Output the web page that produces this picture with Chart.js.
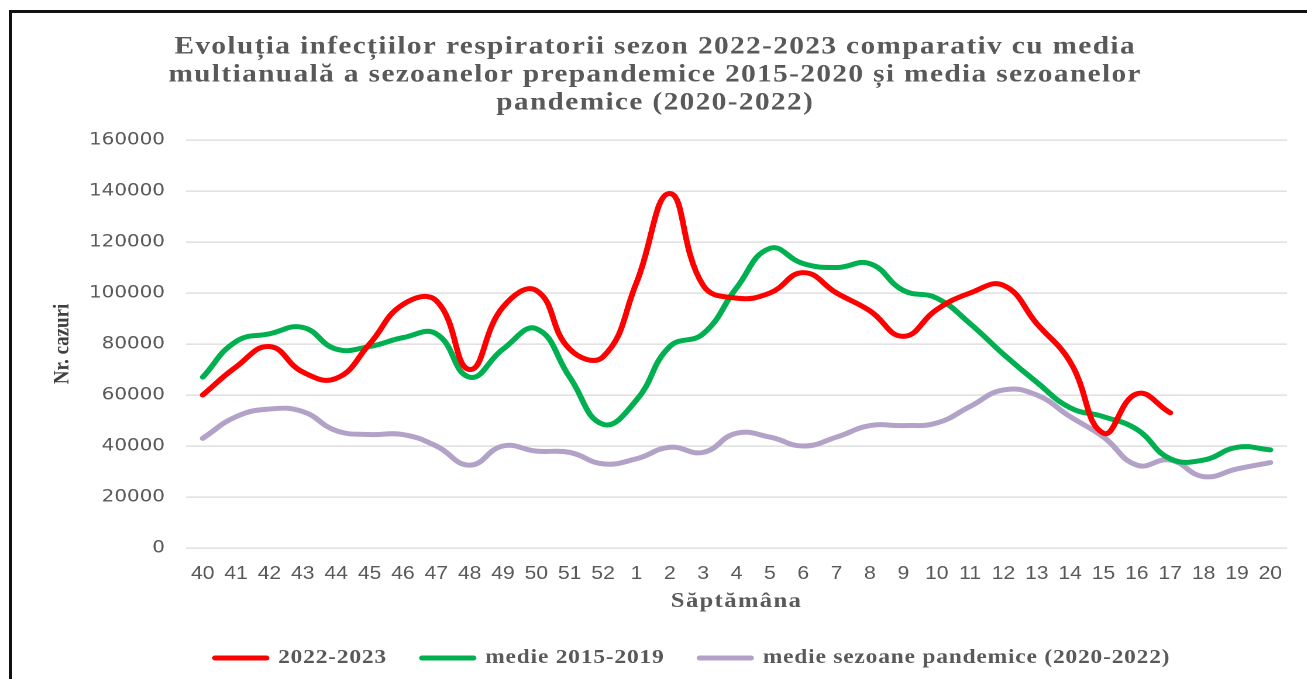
<!DOCTYPE html>
<html>
<head>
<meta charset="utf-8">
<script src="https://cdn.jsdelivr.net/npm/chart.js@4"></script>
<style>
	html, body { margin: 0; padding: 0; background: #fff; overflow: hidden; }
	#frame {
		position: absolute; left: 9px; top: 10px; width: 1400px; height: 800px;
		border-top: 3px solid #111; border-left: 3px solid #111;
	}
	/* the reference is a bit wider than it is tall, so the chart is drawn narrow and stretched */
	#wrap {
		position: absolute; left: 0; top: 0; width: 1117px; height: 679px;
		transform: scaleX(1.17); transform-origin: 0 0;
	}
</style>
</head>
<body>
<div id="frame"></div>
<div id="wrap"><canvas id="chart"></canvas></div>
<script>
const weeks = ['40','41','42','43','44','45','46','47','48','49','50','51','52',
	'1','2','3','4','5','6','7','8','9','10','11','12','13','14','15','16','17','18','19','20'];

const season2022 = [60000, 71000, 79000, 69000, 66500, 80000, 95500, 97000, 70000, 94500, 101000, 78000, 75000,
	104000, 139000, 103000, 98000, 100000, 108000, 100000, 93000, 83000, 93500, 100000, 103000, 88000, 73000,
	45000, 60500, 53000, null, null, null];

const avg2015_2019 = [67000, 81000, 84000, 86500, 78000, 79000, 82500, 84000, 67000, 78000, 86000, 67000, 48500,
	58000, 79000, 84000, 102000, 117500, 111500, 110000, 111500, 101000, 98000, 88000, 76000, 65000, 55000,
	51500, 46500, 35000, 34500, 39500, 38500];

const avgPandemic = [43000, 51500, 54500, 53500, 46000, 44500, 44500, 40000, 32500, 40000, 38000, 37500, 33000,
	35000, 39500, 37500, 45000, 43500, 40000, 43500, 48000, 48000, 49000, 55500, 62000, 60000, 51500,
	43500, 32500, 34500, 28000, 31000, 33500];

const seriesNames = ['2022-2023', 'medie 2015-2019', 'medie sezoane pandemice (2020-2022)'];
const yTicks = [0, 20000, 40000, 60000, 80000, 100000, 120000, 140000, 160000];

const colors = ['#ff0000', '#00b050', '#b3a2c7'];
const serif = "'Liberation Serif', 'Times New Roman', serif";
const LEGEND_SHIFT = 32;

// the serif texts in the original are letter-spaced; key the spacing on font size
const spacingBySize = { 25: '1.2px', 20: '0.7px', 21: '1.2px' };
const fontProp = Object.getOwnPropertyDescriptor(CanvasRenderingContext2D.prototype, 'font');
Object.defineProperty(CanvasRenderingContext2D.prototype, 'font', {
	get() { return fontProp.get.call(this); },
	set(v) {
		fontProp.set.call(this, v);
		const m = /(\d+(?:\.\d+)?)px/.exec(v);
		const sp = (v.indexOf('Serif') >= 0 && m && spacingBySize[m[1]]) || '0px';
		if ('letterSpacing' in this) this.letterSpacing = sp;
	}
});

function line(label, data, color) {
	return {
		label: label,
		data: data,
		borderColor: color,
		backgroundColor: color,
		borderWidth: 5,
		borderCapStyle: 'round',
		borderJoinStyle: 'round',
		pointRadius: 0,
		tension: 0.45,
		fill: false
	};
}

// nudge the legend to the right, like in the original
const shiftLegend = {
	id: 'shiftLegend',
	afterLayout(chart) {
		chart.legend.left += LEGEND_SHIFT;
		chart.legend.right += LEGEND_SHIFT;
	}
};

new Chart(document.getElementById('chart'), {
	type: 'line',
	data: {
		labels: weeks,
		datasets: [
			line(seriesNames[0], season2022, colors[0]),
			line(seriesNames[1], avg2015_2019, colors[1]),
			line(seriesNames[2], avgPandemic, colors[2])
		]
	},
	plugins: [shiftLegend],
	options: {
		responsive: true,
		maintainAspectRatio: false,
		animation: false,
		devicePixelRatio: 2,
		layout: { padding: { left: 20, right: 17, top: 0, bottom: 1 } },
		plugins: {
			title: {
				display: true,
				text: [
					'Evoluția infecțiilor respiratorii sezon 2022-2023 comparativ cu media',
					'multianuală a sezoanelor prepandemice 2015-2020 și media sezoanelor',
					'pandemice (2020-2022)'
				],
				color: '#595959',
				font: { family: serif, size: 25, weight: 'bold', lineHeight: 1.12 },
				padding: { top: 33, bottom: 23 }
			},
			legend: {
				position: 'bottom',
				labels: {
					usePointStyle: true,
					pointStyle: 'line',
					pointStyleWidth: 44,
					padding: 30,
					color: '#595959',
					font: { family: serif, size: 20, weight: 'bold' },
					generateLabels(chart) {
						return Chart.defaults.plugins.legend.labels.generateLabels(chart).map(item => ({
							...item,
							strokeStyle: colors[item.datasetIndex],
							lineWidth: 5,
							lineCap: 'round'
						}));
					}
				}
			},
			tooltip: { enabled: false }
		},
		scales: {
			x: {
				offset: true,
				grid: { display: false },
				border: { display: false },
				ticks: {
					color: '#595959',
					padding: 7,
					maxRotation: 0,
					autoSkip: false,
					font: { family: "'Liberation Sans', Arial, sans-serif", size: 18 }
				},
				title: {
					display: true,
					text: 'Săptămâna',
					color: '#595959',
					font: { family: serif, size: 21, weight: 'bold' },
					padding: { top: 0, bottom: 4 }
				},
				afterFit(scale) { scale.height = 70; }
			},
			y: {
				min: 0,
				max: 160000,
				afterBuildTicks(scale) { scale.ticks = yTicks.map(v => ({ value: v })); },
				grid: { color: '#d9d9d9', lineWidth: 1.2, drawTicks: false },
				border: { display: false },
				ticks: {
					color: '#595959',
					padding: 18,
					font: { family: "'DejaVu Sans', sans-serif", size: 17 },
					callback: v => String(v)
				},
				title: {
					display: true,
					text: 'Nr. cazuri',
					color: '#404040',
					font: { family: serif, size: 19, weight: 'bold' },
					padding: { top: 22, bottom: 0 }
				},
				afterFit(scale) { scale.width = 139; }
			}
		}
	}
});
</script>
</body>
</html>
